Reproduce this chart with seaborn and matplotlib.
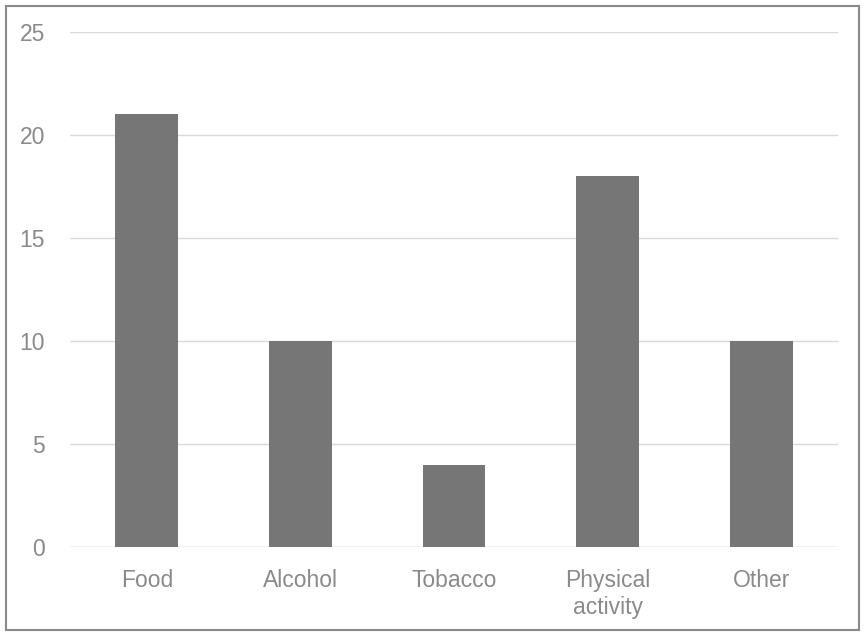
import matplotlib
matplotlib.use("Agg")
import matplotlib.pyplot as plt
import seaborn as sns
import pandas as pd
from matplotlib.patches import Rectangle

categories = ["Food", "Alcohol", "Tobacco", "Physical\nactivity", "Other"]
values = [21, 10, 4, 18, 10]
yticks = [0, 5, 10, 15, 20, 25]

sns.set_theme(style="white")
plt.rcParams['font.family'] = ['Liberation Sans', 'DejaVu Sans']

df = pd.DataFrame({"category": categories, "value": values})

fig = plt.figure(figsize=(8.66, 6.33), dpi=100)
ax = fig.add_axes([70/866, 1-547/633, (838-70)/866, (547-32)/633])
sns.barplot(data=df, x="category", y="value", color="#767676", saturation=1,
            width=0.41, ax=ax, zorder=3, edgecolor="none", linewidth=0)
ax.set_ylim(0, 25)
ax.set_xlim(-0.5, len(categories)-0.5)
ax.set_yticks(yticks)
ax.set_yticklabels([str(t) for t in yticks])
ax.yaxis.grid(True, color="#d9d9d9", linewidth=1.0, zorder=0)
ax.set_axisbelow(True)
for s in ax.spines.values():
    s.set_visible(False)
ax.axhline(0, color="#d9d9d9", linewidth=1.0, zorder=1)
ax.tick_params(axis="both", length=0, labelsize=16.5, labelcolor="#8a8a8a")
ax.tick_params(axis="y", pad=18)
ax.tick_params(axis="x", pad=16)
ax.set_xlabel("")
ax.set_ylabel("")

fig.patches.append(Rectangle((6/866, 3/633), (859-6)/866, (630-6)/633,
                             transform=fig.transFigure, fill=False,
                             edgecolor="#8a8a8a", linewidth=1.5))
fig.savefig("out.png", dpi=100)
